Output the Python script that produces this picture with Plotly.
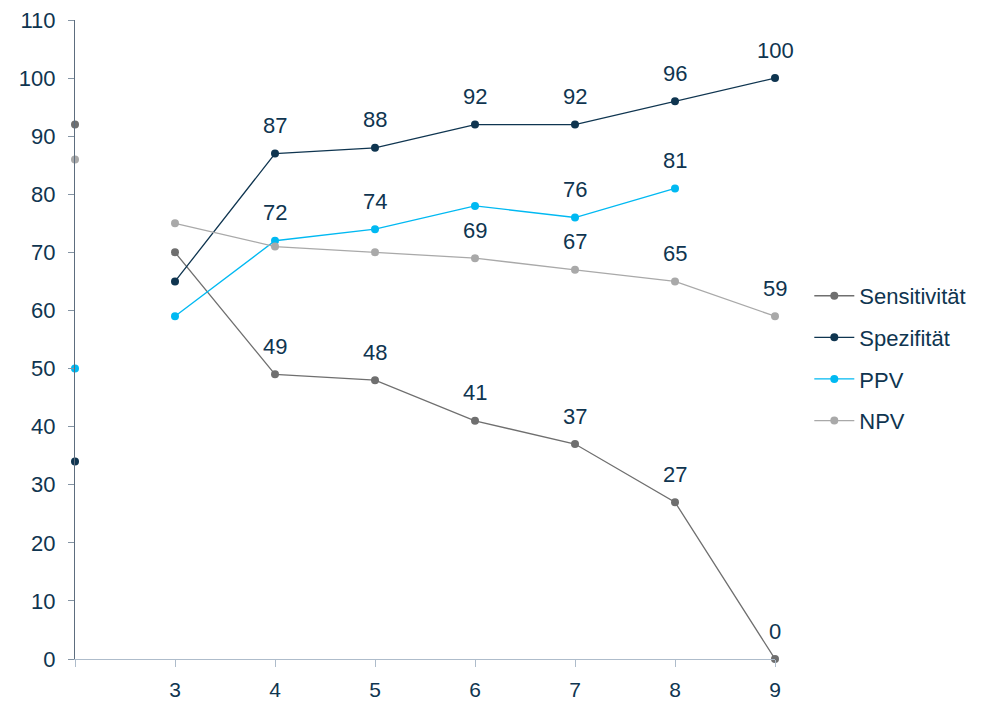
import plotly.graph_objects as go

categories = [2, 3, 4, 5, 6, 7, 8, 9]
tick_labels = ["", "3", "4", "5", "6", "7", "8", "9"]

sens = [92, 70, 49, 48, 41, 37, 27, 0]
spez = [34, 65, 87, 88, 92, 92, 96, 100]
ppv = [50, 59, 72, 74, 78, 76, 81, None]
npv = [86, 75, 71, 70, 69, 67, 65, 59]

sens_lbl = [None, None, 49, 48, 41, 37, 27, 0]
spez_lbl = [None, None, 87, 88, 92, 92, 96, 100]
ppv_lbl = [None, None, 72, 74, None, 76, 81, None]
npv_lbl = [None, None, None, None, 69, 67, 65, 59]

series = [
    ("Sensitivität", sens, sens_lbl, "#6f6f6f"),
    ("Spezifität", spez, spez_lbl, "#0f3550"),
    ("PPV", ppv, ppv_lbl, "#00b9f2"),
    ("NPV", npv, npv_lbl, "#a9a9a9"),
]

TEXT = "#0f3550"
FONT = "Liberation Sans, Arial, Helvetica, sans-serif"

fig = go.Figure()
for i, (name, vals, lbls, col) in enumerate(series):
    # isolated first point (not connected)
    fig.add_trace(go.Scatter(
        x=categories[:1], y=vals[:1], mode="markers",
        marker=dict(color=col, size=8), showlegend=False,
        legendgroup=name, hoverinfo="skip"))
    xs = [c for c, v in zip(categories[1:], vals[1:]) if v is not None]
    ys = [v for v in vals[1:] if v is not None]
    fig.add_trace(go.Scatter(
        x=xs, y=ys, mode="lines+markers", name=name,
        line=dict(color=col, width=1.3),
        marker=dict(color=col, size=8), legendgroup=name))
    for c, l, v in zip(categories, lbls, vals):
        if l is not None:
            fig.add_annotation(x=c, y=v, text=str(l), showarrow=False,
                               yshift=28, font=dict(size=22, color=TEXT, family=FONT))

fig.update_layout(
    width=988, height=701,
    margin=dict(l=75, r=213, t=20, b=42),
    paper_bgcolor="white", plot_bgcolor="white",
    font=dict(family=FONT, size=22, color=TEXT),
    showlegend=True,
    legend=dict(x=1.049, y=0.601, xanchor="left", yanchor="top",
                font=dict(size=22, color=TEXT), tracegroupgap=10,
                itemwidth=40, bgcolor="rgba(0,0,0,0)"),
    xaxis=dict(range=[2, 9], tickvals=categories, ticktext=tick_labels,
               showgrid=False, zeroline=False, showline=True, automargin=False,
               linecolor="#aebccb", linewidth=1.2,
               ticks="outside", ticklen=7, tickcolor="#aebccb",
               ticklabelstandoff=5, tickfont=dict(size=21, color=TEXT)),
    yaxis=dict(range=[0, 110], tickvals=list(range(0, 111, 10)),
               showgrid=False, zeroline=False, showline=True, automargin=False,
               linecolor="#5d6d7e", linewidth=1.2,
               ticks="outside", ticklen=6, tickcolor="#8494a4",
               ticklabelstandoff=8, tickfont=dict(size=22, color=TEXT)),
)
fig.update_traces(cliponaxis=False)

fig.write_html("out.html")
